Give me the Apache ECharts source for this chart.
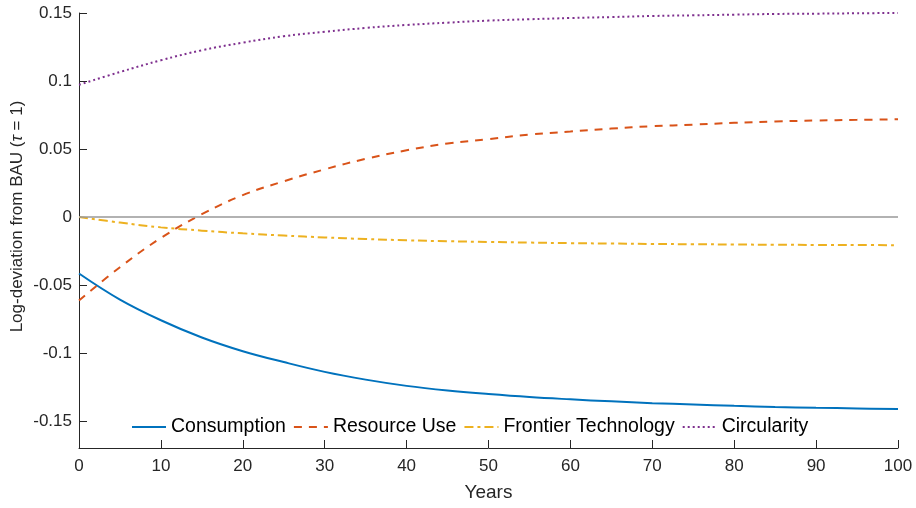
<!DOCTYPE html>
<html>
<head>
<meta charset="utf-8">
<script src="https://cdn.jsdelivr.net/npm/echarts@6/dist/echarts.min.js"></script>
<style>html,body{margin:0;padding:0;background:#fff;}#c{width:916px;height:508px;}</style>
</head>
<body>
<div id="c"></div>
<script>
var years = [0,5,10,15,20,25,30,35,40,45,50,55,60,65,70,75,80,85,90,95,100];
var consumption = [-0.0416,-0.0608,-0.0760,-0.0887,-0.0988,-0.1068,-0.1140,-0.1197,-0.1243,-0.1277,-0.1303,-0.1325,-0.1342,-0.1357,-0.1370,-0.1380,-0.1390,-0.1398,-0.1404,-0.1409,-0.1414];
var resourceUse = [-0.0615,-0.0370,-0.0155,0.0020,0.0160,0.0262,0.0350,0.0427,0.0490,0.0540,0.0572,0.0606,0.0628,0.0650,0.0667,0.0679,0.0692,0.0702,0.0709,0.0714,0.0718];
var frontierTech = [0,-0.0042,-0.0077,-0.0101,-0.0121,-0.0137,-0.0151,-0.0163,-0.0172,-0.0179,-0.0184,-0.0189,-0.0193,-0.0196,-0.0199,-0.0201,-0.0203,-0.0205,-0.0206,-0.0207,-0.0208];
var circularity = [0.0972,0.1066,0.1152,0.1226,0.1282,0.1329,0.1362,0.1390,0.1412,0.1429,0.1444,0.1454,0.1463,0.1470,0.1478,0.1483,0.1488,0.1493,0.1495,0.1498,0.1500];
var yTicks = [-0.15,-0.1,-0.05,0,0.05,0.1,0.15];
var seriesNames = ['Consumption','Resource Use','Frontier Technology','Circularity'];

function pairs(arr){ return years.map(function(y,i){ return [y, arr[i]]; }); }
var FONT = '"Liberation Sans", Arial, Helvetica, sans-serif';
var chart = echarts.init(document.getElementById('c'));
function mk(name, arr, color, dash){
  return {
    name: name, type: 'line', data: pairs(arr), symbol: 'none', showSymbol: false, smooth: 0.4,
    lineStyle: {color: color, width: 2, type: dash}, itemStyle: {color: color}, z: 3
  };
}
chart.setOption({
  animation: false,
  backgroundColor: '#fff',
  grid: {left: 79, right: 18, top: 13, bottom: 60, containLabel: false, outerBoundsMode: 'none'},
  legend: {
    data: seriesNames, left: 131, top: 417, padding: 0, itemWidth: 34, itemHeight: 14, itemGap: 7,
    itemStyle: {opacity: 0},
    textStyle: {fontFamily: FONT, fontSize: 19.5, color: '#000'}
  },
  xAxis: {
    type: 'value', min: 0, max: 100, interval: 10,
    name: 'Years', nameLocation: 'middle', nameGap: 35,
    nameTextStyle: {fontFamily: FONT, fontSize: 19, color: '#262626'},
    axisLine: {show: true, onZero: false, lineStyle: {color: '#262626', width: 1}},
    axisTick: {show: true, inside: true, length: 8, lineStyle: {color: '#262626'}},
    axisLabel: {fontFamily: FONT, fontSize: 17, color: '#262626', margin: 10},
    splitLine: {show: false}
  },
  yAxis: {
    type: 'value', min: -0.17, max: 0.15,
    name: '{a|Log-deviation from BAU (}{i|τ}{a| = 1)}', nameLocation: 'middle', nameGap: 53,
    nameMoveOverlap: false,
    nameTextStyle: {padding: [0, 0, 0, 28], rich: {a: {fontFamily: FONT, fontSize: 17, color: '#262626'}, i: {fontFamily: FONT, fontSize: 17, fontStyle: 'italic', color: '#262626'}}},
    axisLine: {show: true, onZero: false, lineStyle: {color: '#262626', width: 1}},
    axisTick: {show: true, inside: true, length: 8, customValues: yTicks, lineStyle: {color: '#262626'}},
    axisLabel: {fontFamily: FONT, fontSize: 17, color: '#262626', margin: 7, customValues: yTicks,
      formatter: function(v){ return String(parseFloat(v.toFixed(2))); }},
    splitLine: {show: false}
  },
  series: [
    {
      name: 'zero', type: 'line', data: [], symbol: 'none', silent: true, z: 1,
      markLine: {silent: true, symbol: 'none', label: {show: false}, animation: false,
        lineStyle: {color: '#999999', width: 1.5, type: 'solid'}, data: [{yAxis: 0}]}
    },
    mk('Consumption', consumption, '#0072BD', 'solid'),
    mk('Resource Use', resourceUse, '#D95319', [8, 7]),
    mk('Frontier Technology', frontierTech, '#EDB120', [9, 4, 3, 4]),
    mk('Circularity', circularity, '#7E2F8E', [2, 3])
  ]
});
</script>
</body>
</html>
